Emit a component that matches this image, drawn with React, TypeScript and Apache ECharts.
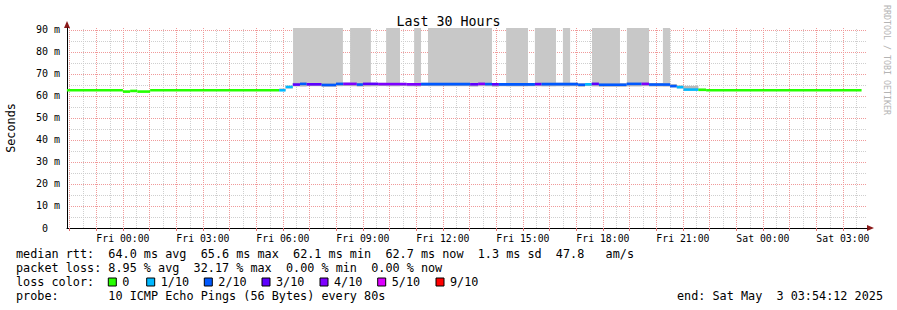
import React, { useEffect, useRef } from 'react';
import * as echarts from 'echarts';

// ---------- data ----------
// time axis: hours relative to Fri 00:00 (window Thu 21:54:12 -> Sat 03:54:12)
const X_MIN = -2.0967;
const X_MAX = 27.9033;
const Y_MAX = 90.9; // ms
const T_START = new Date(2025, 4, 1, 21, 54, 12).getTime();
const T_END = new Date(2025, 4, 3, 3, 54, 12).getTime();

const xLabelHours = [0, 3, 6, 9, 12, 15, 18, 21, 24, 27];
const xMajorHours = Array.from({ length: 30 }, (_, i) => i - 2); // every hour
const xMinorHours = Array.from({ length: 30 }, (_, i) => i - 1.5); // half hours
const yLabelMs = [0, 10, 20, 30, 40, 50, 60, 70, 80, 90];
const yMinorMs = [5, 15, 25, 35, 45, 55, 65, 75, 85];

// median rtt segments (start hour), ms, loss (tenths)
const segStart = [-2.10, 0.00, 0.27, 0.54, 1.02, 5.86, 6.10, 6.37, 6.64, 6.89, 7.45, 7.99, 8.26, 8.77, 9.00, 9.57, 10.64, 11.18, 13.02, 13.32, 13.58, 13.84, 14.10, 15.45, 15.70, 17.07, 17.33, 17.58, 17.85, 18.89, 19.45, 19.73, 20.52, 20.77, 21.02, 21.58, 21.87];
const segEndLast = 27.70;
const segMedian = [62.6, 62.0, 62.3, 62.0, 62.6, 62.6, 64.1, 65.2, 65.5, 65.3, 65.0, 65.5, 65.5, 65.2, 65.5, 65.4, 65.3, 65.4, 65.3, 65.5, 65.4, 65.3, 65.3, 65.4, 65.4, 65.1, 65.3, 65.5, 65.1, 65.5, 65.5, 65.2, 64.5, 64.0, 62.9, 62.8, 62.6];
const segLoss = [0, 0, 0, 0, 0, 1, 1, 3, 2, 3, 2, 2, 4, 2, 3, 4, 4, 2, 3, 4, 2, 3, 2, 3, 2, 2, 1, 3, 2, 2, 4, 2, 2, 1, 1, 0, 0];
const segSmokeLo = [62.6, 62.0, 62.3, 62.0, 62.6, 62.3, 63.4, 64.4, 64.3, 64.6, 64.2, 64.6, 64.5, 64.3, 64.4, 64.5, 64.4, 64.5, 64.3, 64.6, 64.5, 64.2, 64.4, 64.5, 64.4, 64.2, 64.5, 64.4, 64.2, 64.4, 64.6, 64.3, 63.9, 63.5, 62.6, 62.5, 62.6];
const segSmokeHi = [62.6, 62.0, 62.3, 62.0, 62.6, 63.4, 64.6, 66.0, 66.0, 65.9, 65.8, 66.0, 66.1, 65.9, 66.0, 66.0, 65.9, 66.0, 65.9, 66.1, 66.0, 65.9, 65.9, 66.0, 66.0, 65.8, 65.9, 66.1, 65.8, 66.0, 66.1, 65.9, 65.4, 64.8, 64.6, 63.3, 62.6];

// tall smoke blocks (pings beyond the top of the chart)
const spikeStart = [6.38, 8.52, 9.87, 10.92, 11.44, 14.37, 15.45, 16.50, 17.59, 18.90, 20.25];
const spikeEnd = [8.25, 9.30, 10.39, 11.18, 13.84, 15.19, 16.24, 16.77, 18.64, 19.73, 20.52];
const spikeLow = [64.4, 64.4, 64.4, 64.4, 64.4, 64.4, 64.4, 64.4, 64.4, 64.4, 64.4];

const lossLevels = [0, 1, 2, 3, 4, 5, 9];
const lossLabels = ['0', '1/10', '2/10', '3/10', '4/10', '5/10', '9/10'];
const lossColors = ['#26ff00', '#00b8ff', '#0059ff', '#5e00ff', '#7e00ff', '#dd00ff', '#ff0000'];

const statLines = [
  'median rtt:  64.0 ms avg  65.6 ms max  62.1 ms min  62.7 ms now  1.3 ms sd  47.8   am/s',
  'packet loss: 8.95 % avg  32.17 % max  0.00 % min  0.00 % now',
];
const probeLine = 'probe:       10 ICMP Echo Pings (56 Bytes) every 80s';
const endLine = 'end: Sat May  3 03:54:12 2025';

// ---------- layout ----------
const W = 897;
const H = 310;
const MONO = '"DejaVu Sans Mono", monospace';
const FS = 11.8;
const CW = FS * 0.602;
const LINE_W = 2.6;
const GRID = { left: 67, right: 30, top: 28, bottom: 82 };
const MINOR = '#cfcfcf';
const MAJOR = '#f09a9a';

function lossColor(l: number) {
  let c = lossColors[0];
  lossLevels.forEach((lv, i) => { if (l >= lv) c = lossColors[i]; });
  return c;
}

function textEl(text: string, x: number, y: number, extra: any = {}) {
  return {
    type: 'text', x, y, silent: true,
    style: {
      text, fill: extra.fill || '#000', fontFamily: MONO, fontSize: extra.fontSize || FS,
      align: extra.align || 'left', verticalAlign: 'middle',
      textAlign: extra.align || 'left', textVerticalAlign: 'middle',
    },
    ...(extra.rotation !== undefined ? { rotation: extra.rotation } : {}),
  };
}

function monoChunks(line: string, x0: number, y: number) {
  const out: any[] = [];
  const re = /\S+(?: \S+)*/g;
  let m: RegExpExecArray | null;
  while ((m = re.exec(line))) out.push(textEl(m[0], x0 + m.index * CW, y));
  return out;
}

export default function App() {
  const ref = useRef<HTMLDivElement>(null);
  useEffect(() => {
    const chart = echarts.init(ref.current!, null, { renderer: 'svg', width: W, height: H });

    const n = segStart.length;
    const medianData = segStart.map((s, i) => [s, i < n - 1 ? segStart[i + 1] : segEndLast, segMedian[i], segLoss[i]]);
    const smokeData = segStart
      .map((s, i) => [s, i < n - 1 ? segStart[i + 1] : segEndLast, segSmokeLo[i], segSmokeHi[i]])
      .filter((d) => d[3] > d[2]);
    const spikeData = spikeStart.map((s, i) => [s, spikeEnd[i], spikeLow[i], Y_MAX]);

    const bandRender = (color: string) => (params: any, api: any) => {
      const a = api.coord([api.value(0), api.value(3)]);
      const b = api.coord([api.value(1), api.value(2)]);
      return { type: 'rect', shape: { x: a[0], y: a[1], width: b[0] - a[0], height: b[1] - a[1] }, style: { fill: color } };
    };

    const vLineRender = (color: string) => (params: any, api: any) => {
      const a = api.coord([api.value(0), 0]);
      const b = api.coord([api.value(0), Y_MAX]);
      const x = Math.round(a[0]) + 0.5;
      return { type: 'line', shape: { x1: x, y1: a[1], x2: x, y2: b[1] }, style: { stroke: color, fill: 'none', lineWidth: 1, lineDash: [1, 1] } };
    };
    const hLineRender = (color: string) => (params: any, api: any) => {
      const a = api.coord([X_MIN, api.value(1)]);
      const b = api.coord([X_MAX, api.value(1)]);
      const y = Math.round(a[1]) + 0.5;
      return { type: 'line', shape: { x1: a[0], y1: y, x2: b[0], y2: y }, style: { stroke: color, fill: 'none', lineWidth: 1, lineDash: [1, 1] } };
    };

    const graphics: any[] = [];
    // axis arrows
    graphics.push({ type: 'polygon', silent: true, shape: { points: [[64, 28], [70, 28], [67, 21]] }, style: { fill: '#8b1a1a' } });
    graphics.push({ type: 'polygon', silent: true, shape: { points: [[867, 225], [867, 231], [874, 228]] }, style: { fill: '#8b1a1a' } });
    // watermark
    graphics.push(textEl('RRDTOOL / TOBI OETIKER', 887, 60, { fill: '#b4b4b4', fontSize: 8.3, align: 'center', rotation: -Math.PI / 2 }));
    // stats
    statLines.forEach((l, i) => graphics.push(...monoChunks(l, 16, 254 + i * 14)));
    graphics.push(textEl('loss color:', 16, 282));
    const lossTextX = [122.3, 160.7, 218.3, 276, 334, 391.7, 450];
    lossLabels.forEach((lab, i) => {
      graphics.push({ type: 'rect', silent: true, shape: { x: lossTextX[i] - 14, y: 278, width: 8, height: 8 }, style: { fill: lossColors[i], stroke: '#000', lineWidth: 1 } });
      graphics.push(textEl(lab, lossTextX[i], 282));
    });
    graphics.push(...monoChunks(probeLine, 16, 296));
    graphics.push(...monoChunks(endLine, 677, 296));

    const option: any = {
      animation: false,
      backgroundColor: '#fff',
      title: {
        text: 'Last 30 Hours', left: 'center', top: 10,
        textStyle: { fontSize: 13.3, fontWeight: 'normal', fontFamily: MONO, color: '#000' },
      },
      grid: { ...GRID, containLabel: false, outerBoundsMode: 'none' },
      xAxis: [
        {
          type: 'value', min: X_MIN, max: X_MAX, z: 3,
          axisLine: { show: true, onZero: false, lineStyle: { color: '#000', width: 1 } },
          splitLine: { show: false },
          axisTick: { show: true, customValues: xMajorHours, length: 3, lineStyle: { color: '#e07070' } },
          axisLabel: {
            customValues: xLabelHours, margin: 5, color: '#000', fontFamily: MONO, fontSize: 9.8,
            formatter: (v: number) => {
              const h = Math.round(v);
              const day = h < 24 ? 'Fri' : 'Sat';
              const hh = String(h % 24).padStart(2, '0');
              return `${day} ${hh}:00`;
            },
          },
        },
        {
          // hourly major grid, aligned to clock hours
          type: 'time', min: T_START, max: T_END, position: 'bottom',
          minInterval: 3600 * 1000, maxInterval: 3600 * 1000,
          axisLine: { show: false }, axisTick: { show: false }, axisLabel: { show: false },
          splitLine: { show: true, showMinLine: false, showMaxLine: false, lineStyle: { color: MAJOR, type: [1, 1], width: 1 } },
        },
      ],
      yAxis: {
        type: 'value', min: 0, max: Y_MAX, interval: 10, z: 3,
        name: 'Seconds', nameLocation: 'middle', nameGap: 50,
        nameTextStyle: { fontFamily: MONO, fontSize: FS, color: '#000' },
        axisLine: { show: true, onZero: false, lineStyle: { color: '#000', width: 1 } },
        splitLine: { show: true, showMinLine: false, showMaxLine: false, lineStyle: { color: MAJOR, type: [1, 1], width: 1 } },
        axisTick: { show: false },
        axisLabel: {
          customValues: yLabelMs, margin: 7, color: '#000', fontFamily: MONO, fontSize: 10,
          formatter: (v: number) => (v === 0 ? '0\u00a0\u00a0' : `${Math.round(v)} m`),
        },
      },
      series: [
        { type: 'custom', silent: true, z: 1, renderItem: vLineRender(MINOR), data: xMinorHours.map((h) => [h, 0]), encode: { x: 0, y: 1 } },
        { type: 'custom', silent: true, z: 1, renderItem: hLineRender(MINOR), data: yMinorMs.map((v) => [X_MIN, v]), encode: { x: 0, y: 1 } },
        { type: 'custom', silent: true, z: 3, renderItem: bandRender('#c8c8c8'), data: spikeData, encode: { x: [0, 1], y: [2, 3] } },
        { type: 'custom', silent: true, z: 4, renderItem: bandRender('#b9b9b9'), data: smokeData, encode: { x: [0, 1], y: [2, 3] } },
        {
          type: 'custom', silent: true, z: 5, data: medianData, encode: { x: [0, 1], y: 2 },
          renderItem: (params: any, api: any) => {
            const v = api.value(2);
            const a = api.coord([api.value(0), v]);
            const b = api.coord([api.value(1), v]);
            return { type: 'rect', shape: { x: a[0], y: a[1] - LINE_W / 2, width: b[0] - a[0], height: LINE_W }, style: { fill: lossColor(api.value(3)) } };
          },
        },
      ],
      graphic: { elements: graphics },
    };
    chart.setOption(option);
    return () => chart.dispose();
  }, []);
  return <div ref={ref} style={{ position: 'fixed', left: 0, top: 0, width: W, height: H, background: '#fff' }} />;
}
